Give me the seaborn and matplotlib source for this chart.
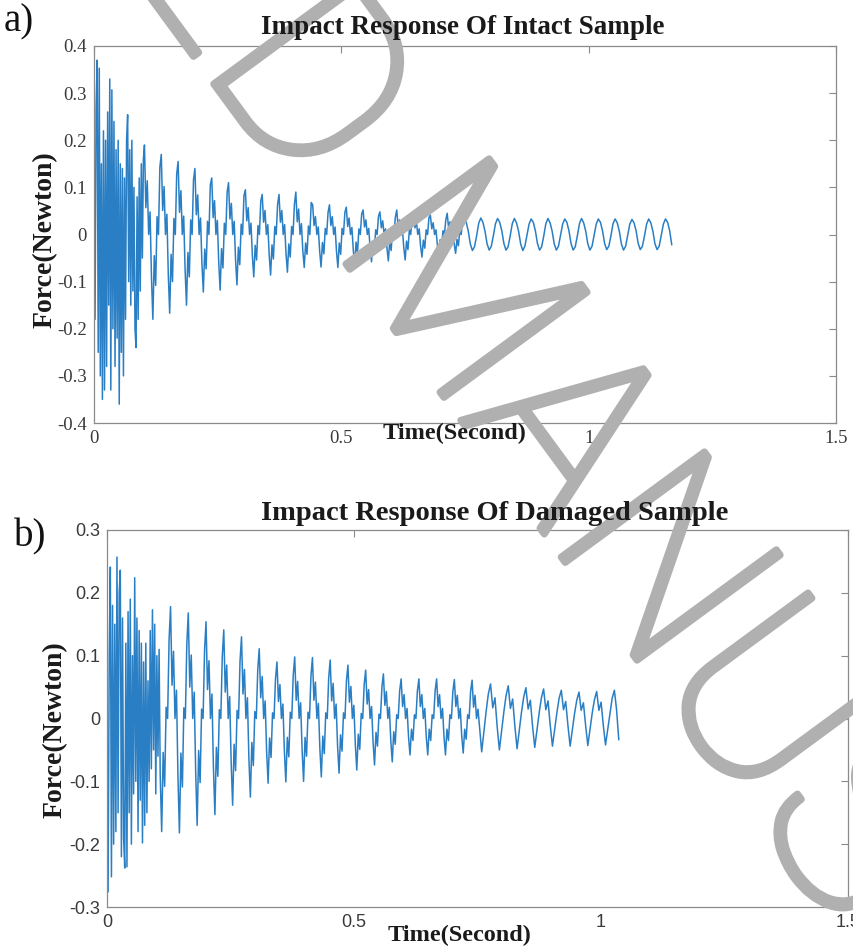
import matplotlib
matplotlib.use("Agg")
import matplotlib.patheffects as pe
import matplotlib.pyplot as plt
import numpy as np
import pandas as pd
import seaborn as sns

# segment boundaries of each record (s): dense start, rippled middle, tail
INTACT_BREAKS = [0.0, 0.102, 0.748, 1.168]
DAMAGED_BREAKS = [0.0, 0.1077, 0.754, 1.036]

# force samples, one row per slow oscillation cycle
intact_early = [
    0.05, -0.18, 0.27, 0.37, -0.25, 0.353, -0.30, 0.15,
    -0.35, 0.22, -0.33, 0.20, -0.28, 0.26, -0.15, 0.33,
    -0.33, 0.307, -0.20, 0.24, -0.28, 0.18, -0.22, 0.20,
    -0.36, 0.15, -0.25, 0.14, -0.30, 0.12, -0.18, 0.20,
    0.254, -0.10, 0.18, -0.15, 0.20, -0.12, 0.10, -0.20,
    -0.24, 0.08, -0.18, 0.12, -0.12, 0.15, -0.05, 0.16,
]

intact_mid = [
    0.19, 0.057, 0.114, 0, 0.048, -0.09, -0.18, -0.045, -0.108, 0.038, 0, 0.143,
    0.17, 0.051, 0.102, 0, 0.043, -0.084, -0.167, -0.042, -0.1, 0.034, 0, 0.128,
    0.155, 0.047, 0.093, 0, 0.039, -0.075, -0.15, -0.038, -0.09, 0.031, 0, 0.116,
    0.14, 0.042, 0.084, 0, 0.035, -0.061, -0.122, -0.031, -0.073, 0.028, 0, 0.105,
    0.12, 0.036, 0.072, 0, 0.03, -0.059, -0.118, -0.03, -0.071, 0.024, 0, 0.09,
    0.11, 0.033, 0.066, 0, 0.028, -0.054, -0.107, -0.027, -0.064, 0.022, 0, 0.083,
    0.095, 0.029, 0.057, 0, 0.024, -0.045, -0.09, -0.023, -0.054, 0.019, 0, 0.071,
    0.085, 0.026, 0.051, 0, 0.021, -0.043, -0.086, -0.022, -0.052, 0.017, 0, 0.064,
    0.085, 0.026, 0.051, 0, 0.021, -0.04, -0.08, -0.02, -0.048, 0.017, 0, 0.064,
    0.09, 0.027, 0.054, 0, 0.023, -0.035, -0.07, -0.018, -0.042, 0.018, 0, 0.068,
    0.063, 0.019, 0.038, 0, 0.016, -0.035, -0.069, -0.017, -0.041, 0.013, 0, 0.047,
    0.063, 0.019, 0.038, 0, 0.016, -0.035, -0.07, -0.018, -0.042, 0.013, 0, 0.047,
    0.058, 0.017, 0.035, 0, 0.015, -0.033, -0.065, -0.016, -0.039, 0.012, 0, 0.044,
    0.052, 0.016, 0.031, 0, 0.013, -0.029, -0.058, -0.015, -0.035, 0.01, 0, 0.039,
    0.048, 0.014, 0.029, 0, 0.012, -0.028, -0.056, -0.014, -0.034, 0.01, 0, 0.036,
    0.052, 0.016, 0.031, 0, 0.013, -0.027, -0.054, -0.014, -0.032, 0.01, 0, 0.039,
    0.048, 0.014, 0.029, 0, 0.012, -0.024, -0.048, -0.012, -0.029, 0.01, 0, 0.036,
    0.041, 0.012, 0.025, 0, 0.01, -0.022, -0.044, -0.011, -0.026, 0.008, 0, 0.031,
    0.045, 0.014, 0.027, 0, 0.011, -0.02, -0.04, -0.01, -0.024, 0.009, 0, 0.034,
]

intact_tail = [
    0.037, 0.027, 0.008, -0.02, -0.034, -0.026, -0.003, 0.024,
    0.035, 0.026, 0.007, -0.02, -0.033, -0.025, -0.002, 0.023,
    0.034, 0.026, 0.008, -0.019, -0.033, -0.026, -0.003, 0.023,
    0.034, 0.025, 0.007, -0.02, -0.034, -0.025, -0.002, 0.022,
    0.033, 0.026, 0.008, -0.019, -0.033, -0.026, -0.003, 0.023,
    0.034, 0.025, 0.007, -0.02, -0.033, -0.025, -0.002, 0.022,
    0.033, 0.026, 0.008, -0.019, -0.033, -0.026, -0.003, 0.023,
    0.034, 0.025, 0.007, -0.02, -0.033, -0.025, -0.002, 0.022,
    0.033, 0.026, 0.008, -0.019, -0.032, -0.025, -0.003, 0.023,
    0.033, 0.025, 0.007, -0.02, -0.033, -0.025, -0.002, 0.022,
    0.032, 0.025, 0.008, -0.019, -0.032, -0.025, -0.003, 0.022,
    0.033, 0.025, 0.007, -0.02, -0.032, -0.025, -0.002, 0.022,
    0.033, 0.026, 0.008, -0.022,
]

damaged_early = [
    0.0, -0.276, 0.10, 0.241, -0.252, 0.18, -0.20, 0.15,
    -0.18, 0.257, -0.15, 0.20, 0.236, -0.22, 0.16, -0.19,
    -0.238, 0.12, -0.236, 0.17, -0.15, 0.19, -0.20, 0.10,
    -0.12, 0.224, -0.10, 0.16, -0.18, 0.14, -0.13, 0.12,
    -0.198, 0.09, -0.17, 0.12, -0.15, 0.06, -0.10, 0.14,
    -0.08, 0.173, -0.05, 0.15, -0.12, 0.10, -0.06, 0.11,
]

damaged_mid = [
    -0.09, -0.18, -0.054, -0.108, 0.018, 0, 0.125, 0.178, 0.053, 0.107, 0, 0.045,
    -0.091, -0.182, -0.055, -0.109, 0.017, 0, 0.118, 0.168, 0.05, 0.101, 0, 0.042,
    -0.085, -0.17, -0.051, -0.102, 0.015, 0, 0.108, 0.154, 0.046, 0.092, 0, 0.039,
    -0.077, -0.153, -0.046, -0.092, 0.014, 0, 0.099, 0.141, 0.042, 0.085, 0, 0.035,
    -0.069, -0.138, -0.041, -0.083, 0.013, 0, 0.091, 0.13, 0.039, 0.078, 0, 0.033,
    -0.063, -0.125, -0.038, -0.075, 0.011, 0, 0.078, 0.111, 0.033, 0.067, 0, 0.028,
    -0.052, -0.103, -0.031, -0.062, 0.009, 0, 0.063, 0.09, 0.027, 0.054, 0, 0.023,
    -0.051, -0.101, -0.03, -0.061, 0.01, 0, 0.069, 0.098, 0.029, 0.059, 0, 0.025,
    -0.05, -0.1, -0.03, -0.06, 0.01, 0, 0.068, 0.097, 0.029, 0.058, 0, 0.024,
    -0.047, -0.093, -0.028, -0.056, 0.009, 0, 0.065, 0.093, 0.028, 0.056, 0, 0.023,
    -0.044, -0.087, -0.026, -0.052, 0.009, 0, 0.06, 0.085, 0.026, 0.051, 0, 0.021,
    -0.041, -0.082, -0.025, -0.049, 0.008, 0, 0.054, 0.077, 0.023, 0.046, 0, 0.019,
    -0.037, -0.074, -0.022, -0.044, 0.007, 0, 0.05, 0.071, 0.021, 0.043, 0, 0.018,
    -0.035, -0.069, -0.021, -0.041, 0.006, 0, 0.044, 0.063, 0.019, 0.038, 0, 0.016,
    -0.029, -0.058, -0.017, -0.035, 0.006, 0, 0.044, 0.063, 0.019, 0.038, 0, 0.016,
    -0.029, -0.058, -0.017, -0.035, 0.006, 0, 0.044, 0.063, 0.019, 0.038, 0, 0.016,
    -0.029, -0.058, -0.017, -0.035, 0.006, 0, 0.043, 0.062, 0.019, 0.037, 0, 0.016,
    -0.028, -0.055, -0.017, -0.033, 0.006, 0, 0.043, 0.061, 0.018, 0.037, 0, 0.015,
]

damaged_tail = [
    -0.013, -0.053, -0.021, 0.011, 0.039, 0.055, 0.017, 0.033,
    -0.013, -0.05, -0.02, 0.01, 0.036, 0.052, 0.016, 0.031,
    -0.012, -0.048, -0.019, 0.01, 0.034, 0.049, 0.015, 0.029,
    -0.012, -0.046, -0.018, 0.009, 0.033, 0.047, 0.014, 0.028,
    -0.011, -0.044, -0.018, 0.009, 0.032, 0.045, 0.014, 0.027,
    -0.011, -0.044, -0.018, 0.008, 0.029, 0.042, 0.013, 0.025,
    -0.011, -0.043, -0.017, 0.009, 0.03, 0.043, 0.013, 0.026,
    -0.011, -0.042, -0.017, 0.009, 0.032, 0.045, 0.014, -0.034,
]

x_ticks = [0, 0.5, 1, 1.5]
x_tick_labels = ["0", "0.5", "1", "1.5"]
intact_y_ticks = [-0.4, -0.3, -0.2, -0.1, 0, 0.1, 0.2, 0.3, 0.4]
intact_y_labels = ["-0.4", "-0.3", "-0.2", "-0.1", "0", "0.1", "0.2", "0.3", "0.4"]
damaged_y_ticks = [-0.3, -0.2, -0.1, 0, 0.1, 0.2, 0.3]
damaged_y_labels = ["-0.3", "-0.2", "-0.1", "0", "0.1", "0.2", "0.3"]

LINE_COLOR = "#2a7fc4"
SPINE_COLOR = "#8a8a8a"
TICK_COLOR = "#3a3a3a"
MARK_COLOR = "#b0b0b0"
SERIF = ["Liberation Serif", "DejaVu Serif"]
SANS = ["Liberation Sans", "DejaVu Sans"]

W, H = 854, 948


def fx(px):
    return px / W


def fy(py):
    return 1 - py / H


def make_frame(segments, breaks):
    # time axis: evenly sampled inside each segment, last segment closed
    times = []
    for i, seg in enumerate(segments):
        last = i == len(segments) - 1
        times.append(np.linspace(breaks[i], breaks[i + 1], len(seg), endpoint=last))
    return pd.DataFrame(
        {"time": np.concatenate(times), "force": np.concatenate(segments)}
    )


def draw_panel(ax, df, yticks, ylabels, tick_family, tick_size):
    sns.lineplot(
        data=df,
        x="time",
        y="force",
        estimator=None,
        sort=False,
        color=LINE_COLOR,
        linewidth=1.1,
        legend=False,
        ax=ax,
    )
    ax.set_xlim(0, 1.5)
    ax.set_ylim(yticks[0], yticks[-1])
    ax.set_xticks(x_ticks, x_tick_labels)
    ax.set_yticks(yticks, ylabels)
    ax.set_xlabel("")
    ax.set_ylabel("")
    ax.tick_params(
        direction="in",
        top=True,
        right=True,
        length=5,
        width=0.8,
        color=SPINE_COLOR,
        labelcolor=TICK_COLOR,
        labelsize=tick_size,
        pad=5,
    )
    for lab in ax.get_xticklabels() + ax.get_yticklabels():
        lab.set_family(tick_family)
    for spine in ax.spines.values():
        spine.set_color(SPINE_COLOR)
        spine.set_linewidth(0.9)
    ax.grid(False)


sns.set_theme(style="white")
plt.rcParams["font.family"] = SERIF

fig = plt.figure(figsize=(W / 100, H / 100), dpi=100)

ax_top = fig.add_axes([fx(94), fy(423), fx(836) - fx(94), fy(46) - fy(423)])
ax_bot = fig.add_axes([fx(107), fy(907), fx(848) - fx(107), fy(530) - fy(907)])

draw_panel(ax_top,
           make_frame([intact_early, intact_mid, intact_tail], INTACT_BREAKS),
           intact_y_ticks, intact_y_labels, SERIF, 13.5)
draw_panel(ax_bot,
           make_frame([damaged_early, damaged_mid, damaged_tail], DAMAGED_BREAKS),
           damaged_y_ticks, damaged_y_labels, SANS, 13)

# diagonal manuscript watermark, under the titles
fig.text(
    fx(465), fy(310), "ACCEPTED MANUSCRIPT",
    rotation=-53.7, rotation_mode="anchor", ha="center", va="center",
    fontsize=180, family=["Roboto", "DejaVu Sans"], fontweight=100,
    color=MARK_COLOR, zorder=1,
    path_effects=[pe.Stroke(linewidth=5, foreground=MARK_COLOR), pe.Normal()],
)

bold = dict(family=SERIF, fontweight="bold", color="#1a1a1a", zorder=3)
fig.text(fx(463), fy(28), "Impact Response Of Intact Sample",
         ha="center", va="center", fontsize=19.5, **bold)
fig.text(fx(495), fy(514), "Impact Response Of Damaged Sample",
         ha="center", va="center", fontsize=20.5, **bold)
fig.text(fx(45), fy(240), "Force(Newton)", rotation=90,
         ha="center", va="center", fontsize=20, **bold)
fig.text(fx(55), fy(730), "Force(Newton)", rotation=90,
         ha="center", va="center", fontsize=20, **bold)
fig.text(fx(455), fy(433), "Time(Second)",
         ha="center", va="center", fontsize=17.5, **bold)
fig.text(fx(460), fy(935), "Time(Second)",
         ha="center", va="center", fontsize=17.5, **bold)

fig.text(fx(4), fy(22), "a)", ha="left", va="center",
         fontsize=28, family=SERIF, color="#111111")
fig.text(fx(14), fy(537), "b)", ha="left", va="center",
         fontsize=28, family=SERIF, color="#111111")

fig.savefig("out.png", dpi=100)
